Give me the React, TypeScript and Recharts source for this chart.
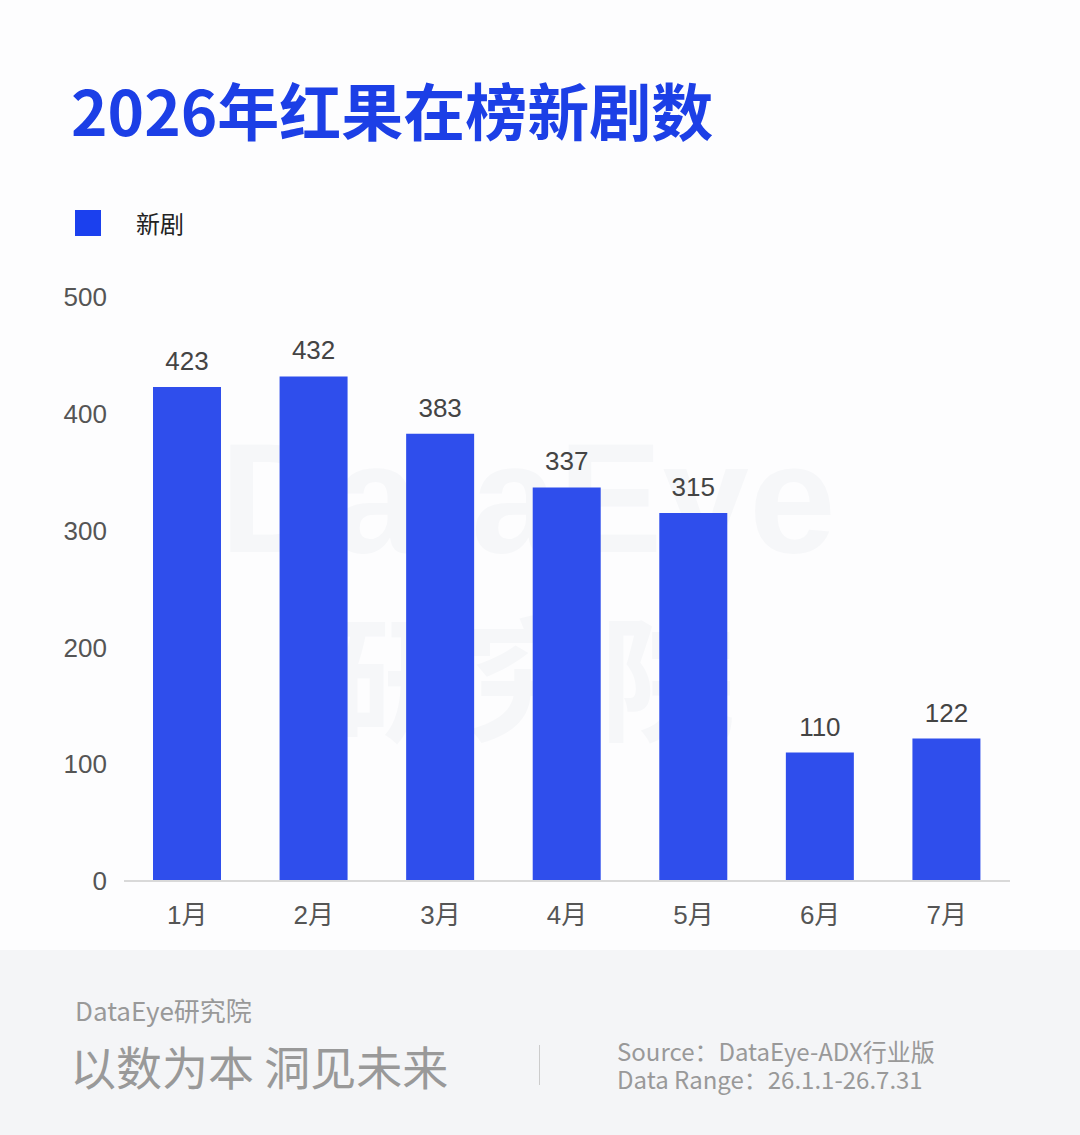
import React from "react";
import { BarChart, Bar, XAxis, YAxis, LabelList } from "recharts";

// monthly count of new dramas on the Hongguo chart, 2026
const months = ["1月", "2月", "3月", "4月", "5月", "6月", "7月"];
const newDramas = [423, 432, 383, 337, 315, 110, 122];
const yTicks = [0, 100, 200, 300, 400, 500];

const data = months.map((m, i) => ({ month: m, value: newDramas[i] }));

const FONT = '"Liberation Sans", Arial, "Noto Sans CJK SC", sans-serif';
const CJK = '"Noto Sans CJK SC", sans-serif';

export default function App() {
  return (
    <div
      style={{
        position: "absolute",
        left: 0,
        top: 0,
        width: 1080,
        height: 1135,
        background: "#fdfdfe",
        overflow: "hidden",
      }}
    >
      {/* faint watermark */}
      <div
        style={{
          position: "absolute",
          left: 220,
          top: 420,
          fontFamily: FONT,
          fontSize: 156,
          color: "#f6f7f9",
          fontWeight: 700,
          lineHeight: 1,
        }}
      >
        DataEye
      </div>
      <div
        style={{
          position: "absolute",
          left: 330,
          top: 605,
          fontFamily: CJK,
          fontSize: 135,
          fontWeight: 700,
          color: "#f6f7f9",
          lineHeight: 1,
        }}
      >
        研究院
      </div>

      <div
        style={{
          position: "absolute",
          left: 71,
          top: 72,
          fontFamily: CJK,
          fontWeight: 700,
          fontSize: 62,
          color: "#1c3fe6",
          lineHeight: 1.2,
        }}
      >
        2026年红果在榜新剧数
      </div>

      {/* legend */}
      <div
        style={{
          position: "absolute",
          left: 75,
          top: 210,
          display: "flex",
          alignItems: "center",
          fontFamily: CJK,
        }}
      >
        <div style={{ width: 26, height: 26, background: "#1b40ee" }} />
        <span style={{ marginLeft: 35, fontSize: 24, color: "#222", lineHeight: "26px" }}>新剧</span>
      </div>

      <div style={{ position: "absolute", left: 0, top: 0 }}>
        <BarChart
          width={1080}
          height={950}
          data={data}
          margin={{ top: 297, right: 70, bottom: 19, left: 0 }}
          barCategoryGap={0}
        >
          <XAxis
            dataKey="month"
            axisLine={{ stroke: "#d9d9d9", strokeWidth: 2 }}
            tickLine={false}
            tickMargin={19}
            height={50}
            tick={{ fill: "#555", fontSize: 26, fontFamily: FONT }}
          />
          <YAxis
            width={124}
            domain={[0, 500]}
            ticks={yTicks}
            axisLine={false}
            tickLine={false}
            tickMargin={11}
            tick={{ fill: "#555", fontSize: 26, fontFamily: FONT }}
          />
          <Bar dataKey="value" fill="#2f4eec" barSize={68} isAnimationActive={false}>
            <LabelList
              dataKey="value"
              position="top"
              offset={17}
              fill="#444"
              fontSize={26}
              fontFamily={FONT}
            />
          </Bar>
        </BarChart>
      </div>

      <div
        style={{
          position: "absolute",
          left: 0,
          top: 950,
          width: 1080,
          height: 185,
          background: "#f4f5f7",
          fontFamily: CJK,
          color: "#999",
        }}
      >
        <div style={{ position: "absolute", left: 75, top: 44, fontSize: 26, lineHeight: 1.2 }}>
          DataEye研究院
        </div>
        <div style={{ position: "absolute", left: 70, top: 88, fontSize: 46, lineHeight: 1.2 }}>
          以数为本 洞见未来
        </div>
        <div
          style={{
            position: "absolute",
            left: 539,
            top: 95,
            width: 1,
            height: 40,
            background: "#ccc",
          }}
        />
        <div style={{ position: "absolute", left: 617, top: 87, fontSize: 24, lineHeight: "28px" }}>
          <div>Source：DataEye-ADX行业版</div>
          <div>Data Range：26.1.1-26.7.31</div>
        </div>
      </div>
    </div>
  );
}
